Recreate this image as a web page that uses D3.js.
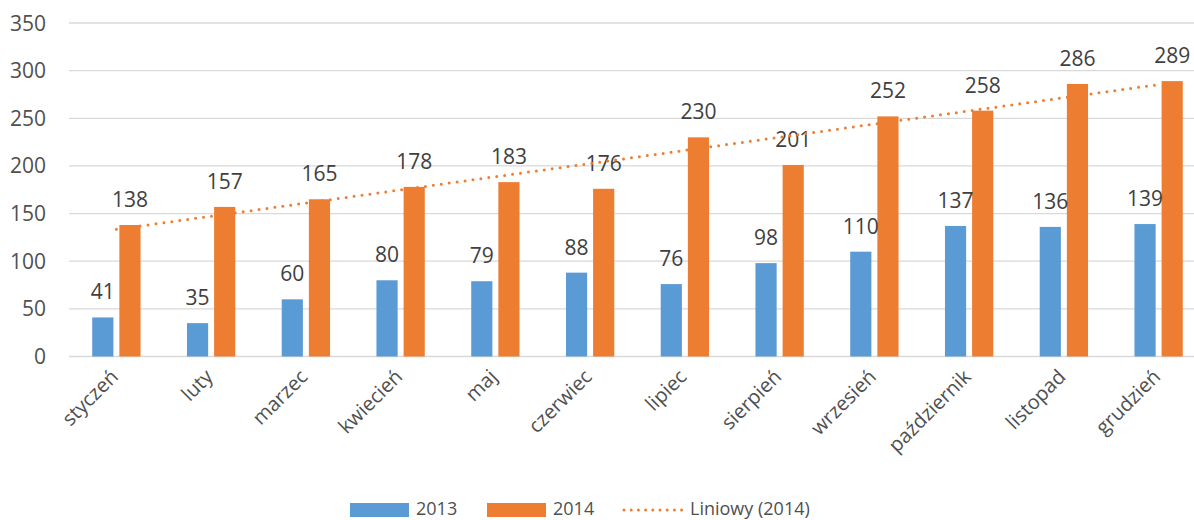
<!DOCTYPE html>
<html>
<head>
<meta charset="utf-8">
<script src="https://cdn.jsdelivr.net/npm/d3@7"></script>
<style>
  body { margin: 0; background: #fff; }
  svg { display: block; font-family: "Open Sans", "Liberation Sans", sans-serif; }
</style>
</head>
<body>
<div id="chart"></div>
<script>
// chart data
const months = ["styczeń", "luty", "marzec", "kwiecień", "maj", "czerwiec",
    "lipiec", "sierpień", "wrzesień", "październik", "listopad", "grudzień"];
const values2013 = [41, 35, 60, 80, 79, 88, 76, 98, 110, 137, 136, 139];
const values2014 = [138, 157, 165, 178, 183, 176, 230, 201, 252, 258, 286, 289];
const seriesNames = ["2013", "2014"];
const yTicks = [0, 50, 100, 150, 200, 250, 300, 350];

const width = 1194, height = 520;
const colors = { "2013": "#5B9BD5", "2014": "#ED7D31" };

const svg = d3.select("#chart").append("svg")
    .attr("width", width)
    .attr("height", height);

// scales
const x0 = d3.scaleBand()
    .domain(months)
    .range([69, 1206])
    .paddingInner(0.49)
    .paddingOuter(0.245);

const x1 = d3.scaleBand()
    .domain(seriesNames)
    .range([0, x0.bandwidth()])
    .paddingInner(0.22);

const y = d3.scaleLinear()
    .domain([0, 350])
    .range([356.5, 23]);

// gridlines
svg.append("g")
    .selectAll("line")
    .data(yTicks)
    .join("line")
    .attr("x1", 69)
    .attr("x2", width)
    .attr("y1", d => y(d))
    .attr("y2", d => y(d))
    .attr("stroke", "#d9d9d9")
    .attr("stroke-width", 1.3);

// y axis labels
svg.append("g")
    .selectAll("text")
    .data(yTicks)
    .join("text")
    .attr("x", 46)
    .attr("y", d => y(d))
    .attr("dy", "0.36em")
    .attr("text-anchor", "end")
    .attr("font-size", 21)
    .attr("fill", "#505050")
    .text(d => d);

// bars
const rows = months.map((m, i) => ({ month: m, "2013": values2013[i], "2014": values2014[i] }));

const groups = svg.append("g")
    .selectAll("g")
    .data(rows)
    .join("g")
    .attr("transform", d => `translate(${x0(d.month)},0)`);

groups.selectAll("rect")
    .data(d => seriesNames.map(s => ({ key: s, value: d[s] })))
    .join("rect")
    .attr("x", d => x1(d.key))
    .attr("width", x1.bandwidth())
    .attr("y", d => y(d.value))
    .attr("height", d => y(0) - y(d.value))
    .attr("fill", d => colors[d.key]);

groups.selectAll("text")
    .data(d => seriesNames.map(s => ({ key: s, value: d[s] })))
    .join("text")
    .attr("x", d => x1(d.key) + x1.bandwidth() / 2)
    .attr("y", d => y(d.value) - 18)
    .attr("text-anchor", "middle")
    .attr("font-size", 21)
    .attr("fill", "#404040")
    .text(d => d.value);

// linear trend for 2014
const n = values2014.length;
const xs = d3.range(1, n + 1);
const mx = d3.mean(xs), my = d3.mean(values2014);
const slope = d3.sum(xs, (v, i) => (v - mx) * (values2014[i] - my)) / d3.sum(xs, v => (v - mx) * (v - mx));
const icpt = my - slope * mx;
const cx = m => x0(m) + x0.bandwidth() / 2;

svg.append("line")
    .attr("x1", cx(months[0]))
    .attr("y1", y(icpt + slope * 1))
    .attr("x2", cx(months[n - 1]))
    .attr("y2", y(icpt + slope * n))
    .attr("stroke", colors["2014"])
    .attr("stroke-width", 3)
    .attr("stroke-linecap", "round")
    .attr("stroke-dasharray", "0 8");

// category labels
svg.append("g")
    .selectAll("text")
    .data(months)
    .join("text")
    .attr("transform", d => `translate(${cx(d) + 3},378) rotate(-45)`)
    .attr("text-anchor", "end")
    .attr("font-size", 20)
    .attr("fill", "#505050")
    .text(d => d);

// legend
const legend = svg.append("g").attr("font-size", 18).attr("fill", "#505050");
legend.append("rect").attr("x", 350).attr("y", 503).attr("width", 59).attr("height", 14).attr("fill", colors["2013"]);
legend.append("text").attr("x", 416).attr("y", 515).text("2013");
legend.append("rect").attr("x", 487).attr("y", 503).attr("width", 59).attr("height", 14).attr("fill", colors["2014"]);
legend.append("text").attr("x", 553).attr("y", 515).text("2014");
legend.append("line")
    .attr("x1", 624).attr("x2", 682).attr("y1", 510).attr("y2", 510)
    .attr("stroke", colors["2014"]).attr("stroke-width", 3)
    .attr("stroke-linecap", "round").attr("stroke-dasharray", "0 7.2");
legend.append("text").attr("x", 690).attr("y", 515).text("Liniowy (2014)");
</script>
</body>
</html>
